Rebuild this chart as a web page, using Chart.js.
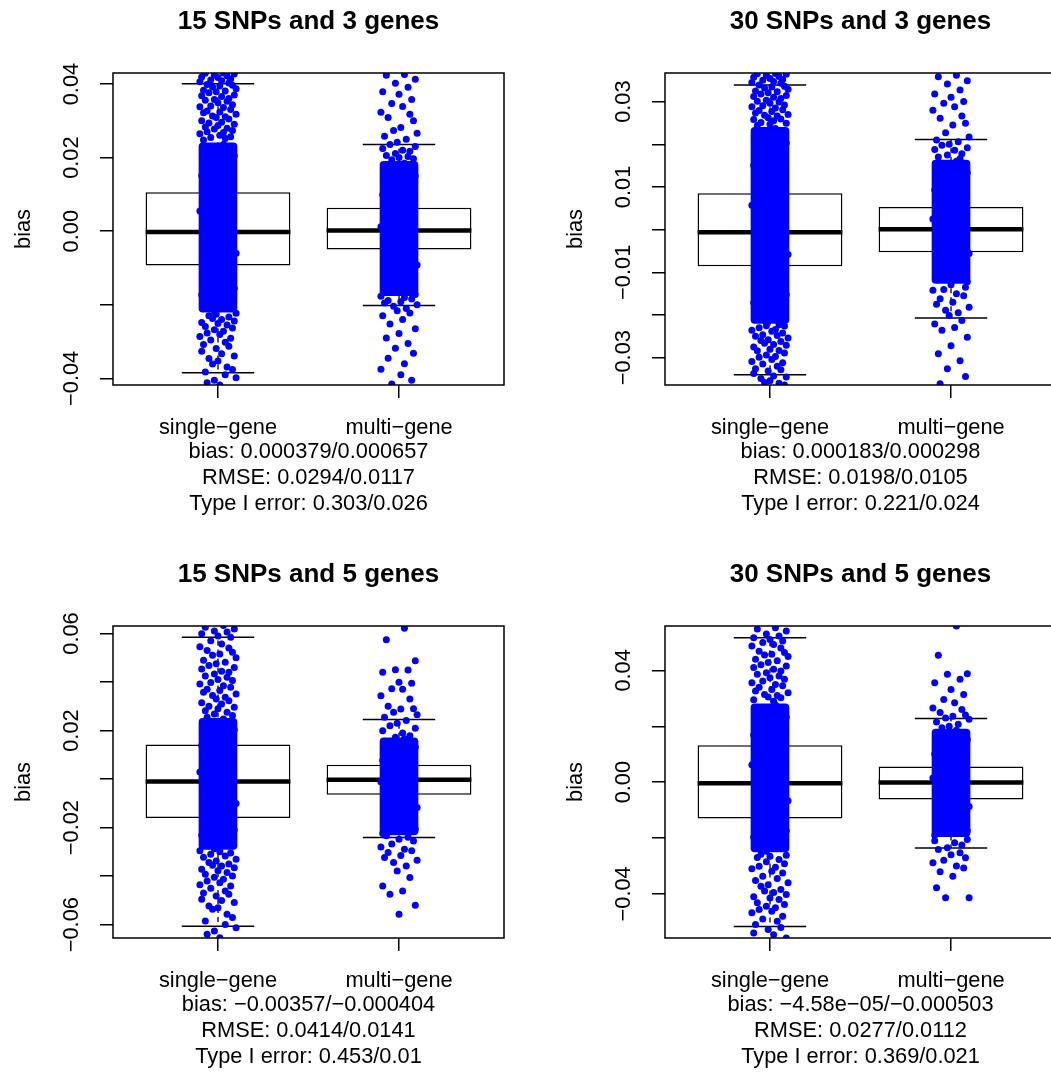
<!DOCTYPE html>
<html>
<head>
<meta charset="utf-8">
<script src="https://cdn.jsdelivr.net/npm/chart.js@4.4.1/dist/chart.umd.min.js"></script>
<style>
  html, body { margin: 0; padding: 0; background: #fff; overflow: hidden; width: 1051px; height: 1072px; position: relative; }
  canvas { position: absolute; }
</style>
</head>
<body>
<canvas id="panel0" width="552" height="553" style="left:-27px;top:-17px"></canvas>
<canvas id="panel1" width="552" height="553" style="left:525px;top:-17px"></canvas>
<canvas id="panel2" width="552" height="553" style="left:-27px;top:536px"></canvas>
<canvas id="panel3" width="552" height="553" style="left:525px;top:536px"></canvas>
<script>
// Text
const MINUS = "\u2212";
const groupLabels = ["single" + MINUS + "gene", "multi" + MINUS + "gene"];
const panelTitles = ["15 SNPs and 3 genes", "30 SNPs and 3 genes", "15 SNPs and 5 genes", "30 SNPs and 5 genes"];
const biasText = ["0.000379/0.000657", "0.000183/0.000298", "−0.00357/−0.000404", "−4.58e−05/−0.000503"];
const rmseText = ["0.0294/0.0117", "0.0198/0.0105", "0.0414/0.0141", "0.0277/0.0112"];
const typeIText = ["0.303/0.026", "0.221/0.024", "0.453/0.01", "0.369/0.021"];

// Axis ranges and ticks (one entry per panel)
const yRange = [[-0.0418, 0.0430], [-0.0364, 0.0367], [-0.0655, 0.0631], [-0.0558, 0.0559]];
const yTicks = [
  [-0.04, -0.02, 0, 0.02, 0.04],
  [-0.03, -0.02, -0.01, 0, 0.01, 0.02, 0.03],
  [-0.06, -0.04, -0.02, 0, 0.02, 0.04, 0.06],
  [-0.04, -0.02, 0, 0.02, 0.04]
];
const yTickLabels = [
  ["−0.04", "", "0.00", "0.02", "0.04"],
  ["−0.03", "", "−0.01", "", "0.01", "", "0.03"],
  ["−0.06", "", "−0.02", "", "0.02", "", "0.06"],
  ["−0.04", "", "0.00", "", "0.04"]
];

// Boxplot statistics, [single, multi] for each panel
const lowerWhisker  = [[-0.0385, -0.0202], [-0.0340, -0.0207], [-0.0607, -0.0241], [-0.0517, -0.0236]];
const lowerQuartile = [[-0.0093, -0.0050], [-0.0086, -0.0053], [-0.0160, -0.0065], [-0.0130, -0.0062]];
const medians       = [[-0.0002,  0.0002], [-0.0006,  0.0001], [-0.0010, -0.0003], [-0.0004, -0.0001]];
const upperQuartile = [[ 0.0106,  0.0064], [ 0.0085,  0.0053], [ 0.0143,  0.0059], [ 0.0132,  0.0056]];
const upperWhisker  = [[ 0.0401,  0.0236], [ 0.0339,  0.0211], [ 0.0585,  0.0246], [ 0.0517,  0.0228]];

// Range where the jittered points merge into a solid band
const coreLow  = [[-0.022, -0.0175], [-0.022, -0.0126], [-0.029, -0.023], [-0.025, -0.0195]];
const coreHigh = [[ 0.024,  0.019],  [ 0.024,  0.0163], [ 0.025,  0.017], [ 0.028,  0.019]];

// Visible points outside the solid band, bias x 1e4
const p1Single = [430,429,427,424,422,419,418,414,411,409,406,403,399,397,395,392,387,383,381,379,376,370,368,366,361,358,356,353,349,344,340,338,336,331,327,324,322,318,313,311,309,305,300,296,294,291,287,283,280,278,274,270,268,265,261,257,255,252,248,
  -223,-226,-230,-233,-237,-240,-244,-248,-251,-255,-259,-263,-268,-272,-277,-281,-286,-291,-296,-302,-308,-313,-319,-326,-333,-339,-346,-353,-361,-369,-376,-383,-390,-398,-405,-412,-418];
const p1Multi = [426,424,413,402,391,379,372,358,347,339,323,318,309,300,282,274,266,258,250,242,236,230,225,220,217,211,206,203,200,197,194,
  -177,-180,-184,-188,-192,-195,-200,-204,-210,-216,-222,-230,-240,-252,-265,-278,-290,-305,-318,-332,-345,-360,-375,-390,-405,-415];
const p2Single = [366,365,364,361,359,357,354,352,350,347,345,343,339,336,334,332,329,325,323,321,318,314,312,310,307,303,301,299,296,292,290,288,285,281,279,277,273,270,268,266,262,259,258,255,251,249,247,244,
  -223,-225,-226,-230,-234,-236,-238,-242,-246,-248,-250,-254,-258,-260,-262,-266,-269,-271,-275,-280,-283,-284,-289,-294,-297,-299,-304,-309,-312,-315,-320,-326,-328,-331,-337,-343,-345,-349,-354,-358,-360,-364];
const p2Multi = [362,358,349,341,327,318,310,300,296,288,280,266,261,249,245,227,217,210,206,200,198,192,188,186,178,175,170,166,
  -129,-135,-140,-142,-150,-155,-162,-170,-175,-182,-189,-195,-201,-213,-221,-229,-236,-252,-272,-291,-307,-326,-344,-361];
const p3Single = [633,626,619,610,606,599,590,585,570,557,545,540,530,523,516,510,500,490,482,475,468,460,454,445,440,433,425,420,410,406,398,392,385,379,370,365,358,351,345,337,330,323,315,310,300,296,290,282,275,268,262,255,248,
  -295,-300,-305,-310,-317,-322,-330,-338,-344,-350,-355,-358,-365,-372,-378,-385,-392,-399,-405,-413,-420,-427,-435,-441,-450,-461,-470,-475,-482,-495,-500,-509,-523,-530,-537,-557,-570,-585,-599,-613,-626,-640,-654];
const p3Multi = [622,574,488,451,450,440,399,395,372,370,344,330,300,290,289,275,265,255,241,230,220,210,199,190,179,172,
  -234,-240,-248,-255,-268,-280,-289,-295,-303,-315,-323,-335,-344,-358,-379,-406,-441,-461,-475,-520,-557];
const p4Single = [553,548,541,530,523,517,511,505,500,493,487,480,469,464,458,455,450,440,435,428,420,416,410,404,398,392,386,380,374,368,362,356,350,345,340,332,326,320,314,310,305,302,295,290,
  -258,-262,-265,-270,-277,-285,-292,-301,-305,-310,-319,-325,-337,-345,-352,-360,-367,-373,-384,-390,-395,-402,-410,-415,-420,-432,-438,-444,-450,-456,-462,-468,-480,-490,-498,-510,-520,-528,-540,-546,-558];
const p4Multi = [559,454,388,386,368,356,332,314,296,284,265,260,249,240,236,230,225,215,207,200,195,
  -205,-210,-217,-225,-235,-241,-253,-260,-271,-280,-289,-300,-307,-321,-337,-378,-414,-414];
const pointSets = [[p1Single, p1Multi], [p2Single, p2Multi], [p3Single, p3Multi], [p4Single, p4Multi]];

// Points along the edges of the solid band, bias x 1e4
const c1Single = [236,221,205,188,170,151,133,112,94,75,55,37,16,-3,-22,-41,-60,-79,-97,-118,-136,-155,-173,-190,-206,-218];
const c1Multi = [185,168,150,133,117,99,82,64,47,30,12,-5,-22,-40,-57,-74,-92,-110,-127,-145,-160,-172];
const c2Single = [237,219,203,186,168,150,131,113,95,76,57,38,18,-1,-20,-39,-58,-77,-96,-115,-134,-152,-171,-188,-204,-217];
const c2Multi = [160,147,133,120,106,93,79,66,52,39,25,12,-2,-15,-29,-42,-56,-69,-83,-96,-110,-122];
const c3Single = [246,225,203,181,160,138,116,94,73,51,29,8,-14,-36,-58,-80,-101,-123,-145,-167,-189,-210,-232,-254,-275,-287];
const c3Multi = [166,149,131,113,96,78,60,42,25,7,-11,-29,-46,-64,-82,-100,-117,-135,-153,-171,-189,-206,-224];
const c4Single = [276,255,233,212,190,169,148,126,105,83,62,40,19,-3,-24,-45,-67,-88,-110,-131,-153,-174,-196,-217,-238,-247];
const c4Multi = [186,169,152,135,118,101,84,66,49,32,15,-2,-19,-36,-53,-70,-87,-104,-121,-138,-156,-173,-190];
const coreSets = [[c1Single, c1Multi], [c2Single, c2Multi], [c3Single, c3Multi], [c4Single, c4Multi]];

// Horizontal jitter of each point, in hundredths of a group width
const jitter = [3,-7,9,-2,5,-9,0,7,-4,2,-10,6,-6,8,1,-3,10,-8,4,-1,-5,9,-9,2,6,-2,-7,5,0,8,
  -4,-10,3,7,-6,1,-8,10,-3,4,-1,6,-9,2,-5,9,0,-7,5,-2,8,-6,3,-10,1,7,-4,4,-8,10,
  -1,-5,6,-3,2,9,-9,0,5,-7,8,-2,3,-6,1,-10,7,-4,4,-8,6,-1,-9,2,9,-5,0,-3,5,8,
  -7,4,10,-2,-6,1,7,-9,3,-4];

const BLUE = "#0000ff";

Chart.defaults.font.family = '"Liberation Sans", Arial, Helvetica, sans-serif';
Chart.defaults.font.size = 21.8;
Chart.defaults.color = "#000";

// Plot frame around the chart area
const framePlugin = {
  id: "frame",
  afterDatasetsDraw(chart) {
    const a = chart.chartArea;
    const ctx = chart.ctx;
    ctx.save();
    ctx.strokeStyle = "#000";
    ctx.lineWidth = 1.5;
    ctx.strokeRect(a.left, a.top, a.right - a.left, a.bottom - a.top);
    ctx.restore();
  }
};

function pointDataset(values, g) {
  return {
    type: "scatter",
    data: values.map((v, j) => ({ x: g + jitter[j] / 100, y: v / 10000 })),
    pointRadius: 3.5, pointBackgroundColor: BLUE, pointBorderWidth: 0,
    order: 1, clip: 0
  };
}

function buildDatasets(k) {
  const gx = [1, 2];
  const datasets = [];

  // Boxes
  datasets.push({
    type: "bar",
    data: gx.map((g, i) => ({ x: g, y: [lowerQuartile[k][i], upperQuartile[k][i]] })),
    backgroundColor: "#fff", borderColor: "#000", borderWidth: 1.5, borderSkipped: false,
    grouped: false, barPercentage: 1, categoryPercentage: 0.8, order: 6, clip: 0
  });

  // Dashed whiskers
  gx.forEach((g, i) => {
    [[upperQuartile[k][i], upperWhisker[k][i]], [lowerQuartile[k][i], lowerWhisker[k][i]]].forEach((seg) => {
      datasets.push({
        type: "line",
        data: [{ x: g, y: seg[0] }, { x: g, y: seg[1] }],
        borderColor: "#000", borderWidth: 1.3, borderDash: [5, 4], pointRadius: 0, order: 5, clip: 0
      });
    });
  });

  // Medians
  datasets.push({
    type: "scatter",
    data: gx.map((g, i) => ({ x: g, y: medians[k][i] })),
    pointStyle: "line", pointRadius: 72.4, pointBorderWidth: 4.5, pointBorderColor: "#000",
    order: 4, clip: 0
  });

  // Whisker staples
  datasets.push({
    type: "scatter",
    data: gx.flatMap((g, i) => [{ x: g, y: upperWhisker[k][i] }, { x: g, y: lowerWhisker[k][i] }]),
    pointStyle: "line", pointRadius: 36.2, pointBorderWidth: 1.5, pointBorderColor: "#000",
    order: 3, clip: 0
  });

  // Solid part of the point cloud
  datasets.push({
    type: "bar",
    data: gx.map((g, i) => ({ x: g, y: [coreLow[k][i], coreHigh[k][i]] })),
    backgroundColor: BLUE, borderWidth: 0, borderRadius: 4, borderSkipped: false,
    grouped: false, barThickness: 38, order: 2, clip: 0
  });

  // Jittered points
  gx.forEach((g, i) => {
    datasets.push(pointDataset(pointSets[k][i], g));
    datasets.push(pointDataset(coreSets[k][i], g));
  });

  return datasets;
}

function makePanel(k) {
  const ctx = document.getElementById("panel" + k).getContext("2d");
  return new Chart(ctx, {
    type: "scatter",
    data: { datasets: buildDatasets(k) },
    plugins: [framePlugin],
    options: {
      responsive: false,
      animation: false,
      events: [],
      layout: { autoPadding: false, padding: { left: 0, right: 21, top: 0, bottom: 0 } },
      plugins: {
        legend: { display: false },
        tooltip: { enabled: false },
        title: {
          display: true,
          text: panelTitles[k],
          fullSize: false,
          color: "#000",
          font: { size: 26, weight: "bold" },
          padding: { top: 23.5, bottom: 35.3 }
        }
      },
      scales: {
        x: {
          type: "linear",
          position: "bottom",
          min: 0.42,
          max: 2.58,
          offset: false,
          afterBuildTicks: (s) => { s.ticks = [{ value: 1 }, { value: 2 }]; },
          afterFit: (s) => { s.height = 151; s.paddingLeft = 0; s.paddingRight = 0; },
          grid: { drawOnChartArea: false, drawTicks: true, tickLength: 13, color: "#000", lineWidth: 1.5, offset: false },
          border: { display: false },
          ticks: {
            autoSkip: false, maxRotation: 0, padding: 17, color: "#000",
            callback: (v) => groupLabels[Math.round(v) - 1]
          },
          title: {
            display: true,
            text: ["bias: " + biasText[k], "RMSE: " + rmseText[k], "Type I error: " + typeIText[k]],
            color: "#000",
            font: { size: 21.8 },
            padding: { top: 0, bottom: 19 }
          }
        },
        y: {
          type: "linear",
          position: "left",
          min: yRange[k][0],
          max: yRange[k][1],
          afterBuildTicks: (s) => { s.ticks = yTicks[k].map((v) => ({ value: v })); },
          afterFit: (s) => { s.width = 140; s.paddingTop = 0; s.paddingBottom = 0; },
          grid: { drawOnChartArea: false, drawTicks: true, tickLength: 13, color: "#000", lineWidth: 1.5 },
          border: { display: false },
          ticks: {
            autoSkip: false, minRotation: 90, maxRotation: 90, crossAlign: "center", padding: 0, color: "#000",
            callback: (v, i) => yTickLabels[k][i]
          },
          title: {
            display: true,
            text: "bias",
            color: "#000",
            font: { size: 21.8 },
            padding: { top: 38, bottom: 0 }
          }
        }
      }
    }
  });
}

[0, 1, 2, 3].forEach(makePanel);
</script>
</body>
</html>
